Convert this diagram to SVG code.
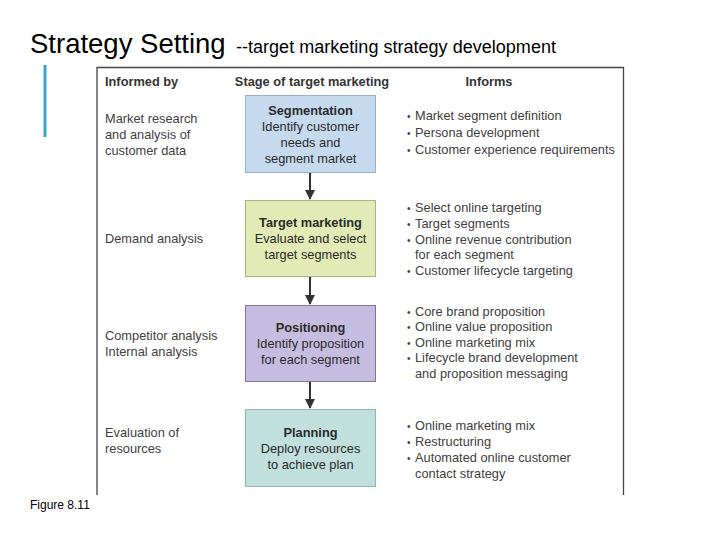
<svg xmlns="http://www.w3.org/2000/svg" width="720" height="540" viewBox="0 0 720 540">
<defs>
<style>
text{font-family:"Liberation Sans",Arial,sans-serif;}
.t{font-size:12.8px;fill:#404040;}
.h{font-size:12.8px;font-weight:bold;fill:#333;}
.bx{font-size:12.8px;fill:#2a2a2a;text-anchor:middle;}
.bb{font-weight:bold;}
.bu{font-size:10px;}
.box{stroke-width:1;}
.conn{stroke:#333;stroke-width:2;fill:none;}
</style>
<marker id="ah" viewBox="0 0 10 10" refX="9" refY="5" markerWidth="5.5" markerHeight="5" orient="auto" markerUnits="strokeWidth">
<path d="M0,0 L10,5 L0,10 z" fill="#333"/>
</marker>
</defs>
<rect width="720" height="540" fill="#fff"/>
<g id="title">
<text x="30" y="53" font-size="27.5" fill="#000">Strategy Setting</text>
<text x="236" y="53" font-size="17.5" fill="#000" textLength="320" lengthAdjust="spacingAndGlyphs">--target marketing strategy development</text>
</g>
<rect x="43.5" y="65" width="3" height="72" fill="#3aa7c8"/>
<path d="M97,495 V67.5 H623.5 V495" fill="none" stroke="#444" stroke-width="1.3"/>
<g id="headers">
<text class="h" x="105" y="86">Informed by</text>
<text class="h" x="312" y="86" text-anchor="middle">Stage of target marketing</text>
<text class="h" x="489" y="86" text-anchor="middle">Informs</text>
</g>
<g id="connectors">
<line class="conn" x1="310" y1="172" x2="310" y2="199" marker-end="url(#ah)"/>
<line class="conn" x1="310" y1="276" x2="310" y2="304" marker-end="url(#ah)"/>
<line class="conn" x1="310" y1="381" x2="310" y2="408" marker-end="url(#ah)"/>
</g>
<g id="segmentation">
<rect class="box" x="245.5" y="95.5" width="130" height="77" fill="#c6daef" stroke="#93b3d3"/>
<text class="bx bb" x="310.5" y="115">Segmentation</text>
<text class="bx" x="310.5" y="131">Identify customer</text>
<text class="bx" x="310.5" y="147">needs and</text>
<text class="bx" x="310.5" y="163">segment market</text>
<text class="t" x="105" y="123">Market research</text>
<text class="t" x="105" y="139">and analysis of</text>
<text class="t" x="105" y="155">customer data</text>
<text class="t" x="407" y="120"><tspan class="bu">•</tspan><tspan x="415">Market segment definition</tspan></text>
<text class="t" x="407" y="137"><tspan class="bu">•</tspan><tspan x="415">Persona development</tspan></text>
<text class="t" x="407" y="154"><tspan class="bu">•</tspan><tspan x="415">Customer experience requirements</tspan></text>
</g>
<g id="target-marketing">
<rect class="box" x="245.5" y="200.5" width="130" height="76" fill="#e2eab6" stroke="#a9b57c"/>
<text class="bx bb" x="310.5" y="227">Target marketing</text>
<text class="bx" x="310.5" y="243">Evaluate and select</text>
<text class="bx" x="310.5" y="259">target segments</text>
<text class="t" x="105" y="243">Demand analysis</text>
<text class="t" x="407" y="212"><tspan class="bu">•</tspan><tspan x="415">Select online targeting</tspan></text>
<text class="t" x="407" y="228"><tspan class="bu">•</tspan><tspan x="415">Target segments</tspan></text>
<text class="t" x="407" y="244"><tspan class="bu">•</tspan><tspan x="415">Online revenue contribution</tspan></text>
<text class="t" x="415" y="259">for each segment</text>
<text class="t" x="407" y="275"><tspan class="bu">•</tspan><tspan x="415">Customer lifecycle targeting</tspan></text>
</g>
<g id="positioning">
<rect class="box" x="245.5" y="305.5" width="130" height="76" fill="#c5bde0" stroke="#7e749e"/>
<text class="bx bb" x="310.5" y="332">Positioning</text>
<text class="bx" x="310.5" y="348">Identify proposition</text>
<text class="bx" x="310.5" y="364">for each segment</text>
<text class="t" x="105" y="340">Competitor analysis</text>
<text class="t" x="105" y="356">Internal analysis</text>
<text class="t" x="407" y="316"><tspan class="bu">•</tspan><tspan x="415">Core brand proposition</tspan></text>
<text class="t" x="407" y="331"><tspan class="bu">•</tspan><tspan x="415">Online value proposition</tspan></text>
<text class="t" x="407" y="347"><tspan class="bu">•</tspan><tspan x="415">Online marketing mix</tspan></text>
<text class="t" x="407" y="362"><tspan class="bu">•</tspan><tspan x="415">Lifecycle brand development</tspan></text>
<text class="t" x="415" y="378">and proposition messaging</text>
</g>
<g id="planning">
<rect class="box" x="245.5" y="409.5" width="130" height="77" fill="#c0dfdd" stroke="#8fb5b3"/>
<text class="bx bb" x="310.5" y="437">Planning</text>
<text class="bx" x="310.5" y="453">Deploy resources</text>
<text class="bx" x="310.5" y="469">to achieve plan</text>
<text class="t" x="105" y="437">Evaluation of</text>
<text class="t" x="105" y="453">resources</text>
<text class="t" x="407" y="430"><tspan class="bu">•</tspan><tspan x="415">Online marketing mix</tspan></text>
<text class="t" x="407" y="446"><tspan class="bu">•</tspan><tspan x="415">Restructuring</tspan></text>
<text class="t" x="407" y="462"><tspan class="bu">•</tspan><tspan x="415">Automated online customer</tspan></text>
<text class="t" x="415" y="478">contact strategy</text>
</g>
<text x="30" y="509" font-size="12" fill="#000">Figure 8.11</text>
</svg>
